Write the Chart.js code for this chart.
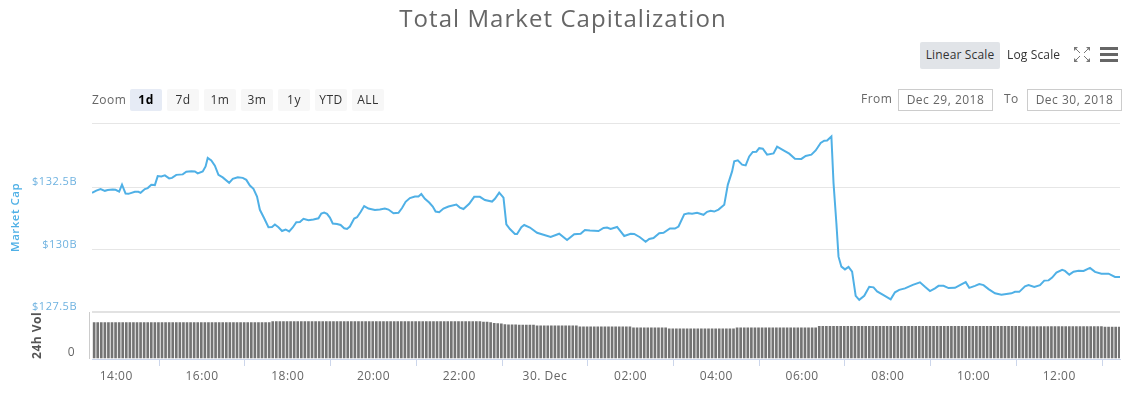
<!DOCTYPE html>
<html>
<head>
<meta charset="utf-8">
<title>Total Market Capitalization</title>
<script src="https://cdn.jsdelivr.net/npm/chart.js@4"></script>
<style>
body { margin: 0; background: #fff; font-family: "Open Sans", sans-serif; overflow: hidden; }
#wrap { position: relative; width: 1138px; height: 401px; }
#wrap canvas { position: absolute; left: 0; top: 0; }
.t { position: absolute; white-space: nowrap; font-size: 12px; color: #666; letter-spacing: 0.5px; line-height: 22px; text-align: center; }
.btn { background: #f7f7f7; color: #333; height: 22px; top: 89px; width: 32px; border-radius: 2px; }
.box { border: 1px solid #ccc; box-sizing: border-box; top: 89px; height: 22px; width: 95px; line-height: 20px; }
.scale { letter-spacing: 0.15px; line-height: 26px; color: #333; top: 42px; }
#title { left: 0; top: -1px; width: 1126px; font-size: 24px; letter-spacing: 1.05px; line-height: 37px; color: #666; }
#volLine { position: absolute; left: 89px; top: 312px; width: 1px; height: 47px; background: #ccc; }
</style>
</head>
<body>
<div id="wrap">
  <canvas id="chart" width="1138" height="401"></canvas>
  <div id="title" class="t">Total Market Capitalization</div>
  <div class="t scale" style="left:920px;width:80px;height:27px;background:#e1e4e8;border-radius:2px">Linear Scale</div>
  <div class="t scale" style="left:1007px">Log Scale</div>
  <svg style="position:absolute;left:1074px;top:47px" width="16" height="15" stroke="#777" fill="#777">
    <path d="M2 2l4 4M14 2l-4 4M2 13l4-4M14 13l-4-4" stroke-width="1"/>
    <path d="M0 0h4l-4 4zM16 0h-4l4 4zM0 15h4l-4-4zM16 15h-4l4-4z" stroke="none"/>
  </svg>
  <svg style="position:absolute;left:1100px;top:47px" width="19" height="15" fill="#666">
    <rect x="0" y="0" width="18" height="3"/><rect x="0" y="6" width="18" height="3"/><rect x="0" y="12" width="18" height="3"/>
  </svg>
  <div class="t" style="left:92px;top:89px">Zoom</div>
  <div class="t btn" style="left:130px;background:#e6ebf5;color:#000;font-weight:700">1d</div>
  <div class="t btn" style="left:167px">7d</div>
  <div class="t btn" style="left:204px">1m</div>
  <div class="t btn" style="left:241px">3m</div>
  <div class="t btn" style="left:278px">1y</div>
  <div class="t btn" style="left:315px">YTD</div>
  <div class="t btn" style="left:352px">ALL</div>
  <div class="t" style="left:861px;top:88px">From</div>
  <div class="t box" style="left:898px">Dec 29, 2018</div>
  <div class="t" style="left:1004px;top:88px">To</div>
  <div class="t box" style="left:1027px">Dec 30, 2018</div>
  <div id="volLine"></div>
</div>
<script>
// minutes since midnight Dec 29
const capTimes = [
  806,812,818,824,828,835,839,844,848,853,857,866,871,874,880,884,889,894,898,903,
  908,914,918,924,933,938,945,950,954,961,965,968,973,978,983,989,998,1003,1010,1017,
  1022,1027,1032,1037,1041,1047,1053,1058,1062,1067,1072,1077,1082,1087,1092,1097,1102,1109,1116,1123,
  1127,1131,1135,1139,1143,1149,1154,1159,1163,1167,1173,1177,1182,1187,1193,1202,1209,1216,1221,1228,
  1235,1240,1245,1251,1258,1263,1267,1272,1278,1283,1287,1292,1298,1305,1316,1321,1326,1334,1341,1349,
  1356,1366,1370,1376,1382,1386,1391,1398,1401,1407,1411,1419,1429,1438,1448,1460,1471,1481,1490,1496,
  1503,1515,1522,1527,1532,1541,1551,1560,1565,1573,1581,1586,1592,1600,1606,1615,1622,1627,1635,1641,
  1646,1653,1662,1667,1672,1677,1683,1691,1696,1702,1705,1710,1716,1721,1726,1731,1736,1740,1745,1751,
  1760,1765,1774,1782,1790,1799,1805,1813,1819,1826,1831,1835,1841,1844,1848,1851,1855,1860,1865,1870,
  1875,1880,1887,1894,1900,1905,1914,1924,1930,1936,1944,1955,1965,1972,1979,1986,1991,1998,2005,2014,
  2021,2029,2034,2042,2048,2054,2061,2070,2079,2086,2093,2098,2104,2112,2117,2125,2133,2139,2145,2150,
  2156,2164,2168,2174,2180,2187,2194,2203,2210,2219,2229,2238,2245
];
// market cap, $B
const capValues = [
  132.27,132.36,132.42,132.35,132.38,132.40,132.39,132.32,132.60,132.24,132.23,132.31,132.31,132.27,132.42,132.46,132.59,132.58,132.94,132.93,
  132.97,132.85,132.87,132.99,133.01,133.12,133.14,133.13,133.05,133.13,133.33,133.67,133.57,133.36,132.99,132.89,132.67,132.83,132.89,132.87,
  132.79,132.56,132.43,132.12,131.59,131.25,130.89,130.90,131.00,130.89,130.74,130.80,130.72,130.88,131.09,131.10,131.23,131.17,131.20,131.25,
  131.44,131.48,131.43,131.28,131.04,131.02,130.98,130.85,130.82,130.92,131.24,131.29,131.50,131.74,131.64,131.58,131.60,131.64,131.60,131.45,
  131.47,131.66,131.91,132.06,132.12,132.12,132.22,132.03,131.88,131.72,131.52,131.49,131.64,131.72,131.80,131.68,131.62,131.83,132.11,132.11,
  131.98,131.92,132.03,132.28,132.08,131.01,130.82,130.62,130.62,130.89,130.98,130.88,130.67,130.59,130.50,130.63,130.38,130.61,130.63,130.78,
  130.76,130.74,130.86,130.88,130.82,130.90,130.54,130.63,130.62,130.49,130.31,130.42,130.46,130.65,130.67,130.84,130.84,130.92,131.41,131.45,
  131.43,131.47,131.39,131.51,131.55,131.52,131.60,131.79,132.59,133.13,133.53,133.57,133.40,133.37,133.73,133.91,133.92,134.06,134.04,133.80,
  133.85,134.12,133.97,133.84,133.64,133.63,133.75,133.80,133.97,134.27,134.36,134.37,134.53,132.66,131.05,129.71,129.31,129.20,129.30,129.11,
  128.14,127.98,128.14,128.50,128.48,128.32,128.17,128.00,128.28,128.38,128.44,128.58,128.68,128.50,128.33,128.44,128.54,128.54,128.45,128.46,
  128.57,128.69,128.46,128.54,128.61,128.57,128.41,128.24,128.18,128.21,128.24,128.30,128.30,128.52,128.57,128.50,128.57,128.75,128.76,128.87,
  129.07,129.18,129.14,128.99,129.11,129.15,129.14,129.26,129.10,129.03,129.03,128.90,128.90
];
// 24h volume, $B, one bar every 5 minutes
const volValues = [
  19.3,19.3,19.3,19.3,19.3,19.3,19.3,19.3,19.3,19.3,19.3,19.3,19.3,19.3,19.3,19.3,19.3,19.3,19.3,19.3,
  19.3,19.3,19.3,19.3,19.3,19.3,19.3,19.3,19.3,19.3,19.3,19.3,19.3,19.3,19.3,19.3,19.3,19.3,19.3,19.3,
  19.3,19.3,19.3,19.3,19.3,19.3,19.3,19.3,19.3,19.3,19.8,19.8,19.8,19.8,19.8,19.8,19.8,19.8,19.8,19.8,
  19.8,19.8,19.8,19.8,19.8,19.8,19.8,19.8,19.8,19.8,19.8,19.8,19.8,19.8,19.8,19.8,19.8,19.8,19.8,19.8,
  19.8,19.8,19.8,19.8,19.8,19.8,19.8,19.8,19.8,19.8,19.8,19.8,19.8,19.8,19.8,19.8,19.8,19.8,19.8,19.8,
  19.8,19.8,19.8,19.8,19.8,19.8,19.8,19.8,19.8,19.6,19.5,19.3,18.9,18.8,18.6,18.2,18.1,18.1,18.1,18.0,
  17.9,17.9,17.9,17.9,17.6,17.6,17.6,17.6,17.6,17.6,17.6,17.6,17.6,17.6,17.6,17.6,17.0,17.0,17.0,17.0,
  17.0,17.0,17.0,17.0,17.0,17.0,17.0,17.0,17.0,17.0,17.0,16.5,16.5,16.5,16.5,16.5,16.5,16.5,16.5,16.5,
  16.5,16.0,16.0,16.0,16.0,16.0,16.0,16.0,16.0,16.0,16.0,16.0,16.0,16.0,16.0,16.0,16.0,16.0,16.0,16.0,
  16.5,16.5,16.5,16.5,16.5,16.5,16.5,16.5,16.5,16.5,16.5,16.5,16.5,16.5,16.5,16.5,16.5,16.5,16.5,16.5,
  16.5,16.5,16.5,17.3,17.3,17.3,17.3,17.3,17.3,17.3,17.3,17.3,17.3,17.3,17.3,17.3,17.3,17.3,17.3,17.3,
  17.3,17.3,17.3,17.3,17.3,17.3,17.3,17.3,17.3,17.3,17.3,17.3,17.3,17.3,17.3,17.3,17.3,17.3,17.3,17.3,
  17.3,17.3,17.3,17.3,17.3,17.3,17.3,17.3,17.3,17.3,17.3,17.3,17.3,17.3,17.3,17.3,17.3,17.3,17.3,17.3,
  17.2,17.2,17.2,17.2,17.2,17.2,17.2,17.2,17.2,17.2,17.2,17.2,17.2,17.2,17.2,17.2,17.2,17.2,17.2,17.2,
  17.2,17.2,17.2,16.9,16.9,16.9,16.9,16.9
];
const capTicks = [127.5, 130, 132.5];
const hourTicks = [840, 960, 1080, 1200, 1320, 1440, 1560, 1680, 1800, 1920, 2040, 2160];
const hourLabels = ["14:00", "16:00", "18:00", "20:00", "22:00", "30. Dec", "02:00", "04:00", "06:00", "08:00", "10:00", "12:00"];

const font = { family: "'Open Sans', sans-serif", size: 12 };

const spacing = {
    id: "spacing",
    beforeDraw(chart) {
        chart.ctx.letterSpacing = "0.5px";
    }
};

function fixWidth(scale) {
    scale.width = 92;
}

new Chart(document.getElementById("chart"), {
    data: {
        datasets: [{
            type: "line",
            label: "Market Cap",
            data: capTimes.map((t, i) => ({ x: t, y: capValues[i] })),
            yAxisID: "cap",
            borderColor: "#4fb0e6",
            borderWidth: 2,
            pointRadius: 0,
            tension: 0
        }, {
            type: "bar",
            label: "24h Vol",
            data: volValues.map((v, i) => ({ x: 809 + i * 5, y: v })),
            yAxisID: "vol",
            backgroundColor: "#737373",
            barThickness: 2
        }]
    },
    options: {
        responsive: false,
        animation: false,
        events: [],
        layout: { padding: { top: 123, right: 18, left: 0, bottom: 0 } },
        plugins: { legend: { display: false }, tooltip: { enabled: false }, title: { display: false } },
        scales: {
            x: {
                type: "linear",
                position: "bottom",
                offset: false,
                min: 806,
                max: 2245,
                afterBuildTicks: s => { s.ticks = hourTicks.map(v => ({ value: v })); },
                afterFit: s => { s.height = 42; },
                border: { color: "#ccd6eb" },
                grid: { drawOnChartArea: false, tickLength: 7, color: "#ccd6eb" },
                ticks: {
                    maxRotation: 0,
                    autoSkip: false,
                    color: "#666",
                    font: font,
                    callback: v => hourLabels[hourTicks.indexOf(v)]
                }
            },
            cap: {
                type: "linear",
                position: "left",
                stack: "panes",
                stackWeight: 4,
                weight: 1,
                min: 127.5,
                max: 135.07,
                afterFit: fixWidth,
                border: { display: false },
                grid: { color: "#e6e6e6", drawTicks: false },
                title: {
                    display: true,
                    text: "Market Cap",
                    color: "#4fb0e6",
                    font: { family: font.family, size: 11.5, weight: "600" },
                    padding: { top: 9, bottom: 0 }
                },
                ticks: {
                    stepSize: 2.5,
                    padding: 15,
                    labelOffset: -5,
                    color: "#6eb2e0",
                    font: { family: font.family, size: 11 },
                    callback: v => capTicks.includes(v) ? "$" + v + "B" : ""
                }
            },
            vol: {
                type: "linear",
                position: "left",
                stack: "panes",
                stackWeight: 1,
                weight: 0,
                min: 0,
                max: 25,
                afterFit: fixWidth,
                border: { display: false },
                grid: {
                    drawTicks: false,
                    lineWidth: 2,
                    color: c => c.tick.value === 25 ? "#e2e2e2" : "transparent"
                },
                title: {
                    display: true,
                    text: "24h Vol",
                    color: "#555",
                    font: { family: font.family, size: 12, weight: "700" },
                    padding: { top: 30, bottom: 0 }
                },
                ticks: {
                    stepSize: 25,
                    padding: 17,
                    labelOffset: -6,
                    color: "#666",
                    font: font,
                    callback: v => v === 0 ? "0" : ""
                }
            }
        }
    },
    plugins: [spacing]
});
</script>
</body>
</html>
